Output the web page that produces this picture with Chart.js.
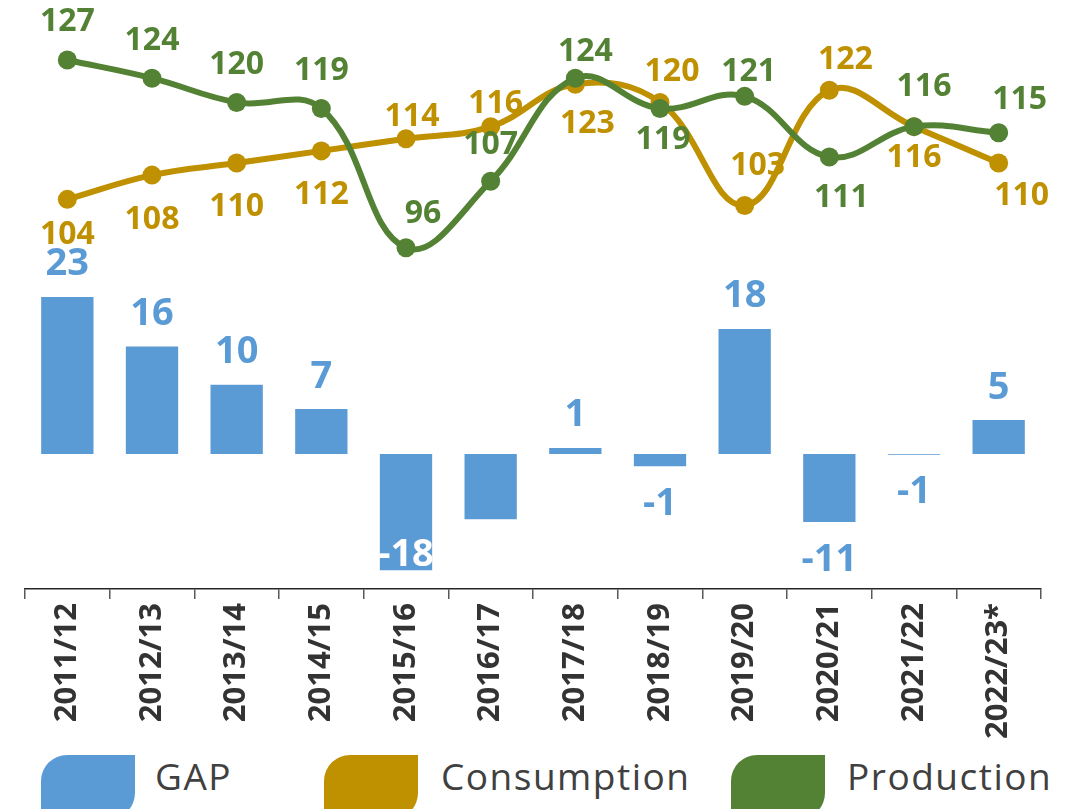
<!DOCTYPE html>
<html>
<head>
<meta charset="utf-8">
<script src="https://cdn.jsdelivr.net/npm/chart.js@4.4.1/dist/chart.umd.min.js"></script>
<style>
  html, body { margin: 0; padding: 0; background: #fff; }
  body { width: 1086px; height: 809px; overflow: hidden; position: relative; font-family: "Open Sans", sans-serif; }
  #wrap { position: absolute; left: 0; top: 0; width: 1086px; height: 745px; }
  .swatch { position: absolute; top: 755px; width: 94px; height: 64px; border-radius: 26px 0 26px 0; }
  .ltxt { position: absolute; top: 757px; font-size: 37px; line-height: 37px; color: #404040; letter-spacing: 1.5px; white-space: nowrap; }
</style>
</head>
<body>
<div id="wrap"><canvas id="gapChart"></canvas></div>

<div class="swatch" style="left:41px; background:#5B9BD5;"></div>
<div class="ltxt" style="left:155px;">GAP</div>
<div class="swatch" style="left:324px; background:#BF9000;"></div>
<div class="ltxt" style="left:441px;">Consumption</div>
<div class="swatch" style="left:731px; background:#548235;"></div>
<div class="ltxt" style="left:847px;">Production</div>

<script>
// --- data ---
const categories = ["2011/12", "2012/13", "2013/14", "2014/15", "2015/16", "2016/17",
  "2017/18", "2018/19", "2019/20", "2020/21", "2021/22", "2022/23*"];
const gapValues = [23.1, 15.8, 10.2, 6.6, -17.1, -9.6, 0.9, -1.8, 18.4, -10.0, -0.1, 5.0];
const gapLabels = ["23", "16", "10", "7", "-18", "", "1", "-1", "18", "-11", "-1", "5"];
const consumption = [104, 108, 110, 112, 114, 116, 123, 120, 103, 122, 116, 110];
const production = [127, 124, 120, 119, 96, 107, 124, 119, 121, 111, 116, 115];

// label offsets (centre of text relative to point)
const prodDy = [-40, -40, -40, -40, -36, -39, -29, 29, -27, 39, -42, -35];
const prodDx = [0, 0, 0, 0, 17, 0, 10, 3, 4, 12, 10, 21];
const consDy = [33, 42, 41, 42, -24, -25, 37, -33, -42, -33, 29, 30];
const consDx = [0, 0, 0, 0, 6, 5, 12, 12, 13, 16, 0, 23];

const BLUE = "#5B9BD5";
const GOLD = "#BF9000";
const GREEN = "#548235";

// plugin buat gambar angka di atas bar & titik
const valueLabels = {
  id: "valueLabels",
  afterDatasetsDraw(chart) {
    const ctx = chart.ctx;
    const area = chart.chartArea;
    ctx.save();
    ctx.textAlign = "center";
    ctx.textBaseline = "alphabetic";

    // bar labels
    ctx.font = 'bold 38px "Open Sans"';
    chart.getDatasetMeta(0).data.forEach((bar, i) => {
      const txt = gapLabels[i];
      if (!txt) return;
      let base;
      ctx.fillStyle = BLUE;
      if (gapValues[i] >= 0) {
        base = bar.y - 35 + 13.5;
      } else {
        base = bar.y + 35 + 13.5;
        if (base > area.bottom) {
          base = bar.y - 4;
          ctx.fillStyle = "#ffffff";
        }
      }
      ctx.fillText(txt, bar.x, base);
    });

    // line labels
    ctx.font = 'bold 32px "Open Sans"';
    const drawLine = (idx, values, dx, dy, color) => {
      ctx.fillStyle = color;
      chart.getDatasetMeta(idx).data.forEach((pt, i) => {
        ctx.fillText(String(values[i]), pt.x + dx[i], pt.y + dy[i] + 11.5);
      });
    };
    drawLine(1, consumption, consDx, consDy, GOLD);
    drawLine(2, production, prodDx, prodDy, GREEN);
    ctx.restore();
  }
};

const ctx = document.getElementById("gapChart").getContext("2d");
new Chart(ctx, {
  data: {
    labels: categories,
    datasets: [
      {
        type: "bar",
        label: "GAP",
        data: gapValues,
        yAxisID: "y",
        backgroundColor: BLUE,
        borderWidth: 0,
        barPercentage: 0.618,
        categoryPercentage: 1,
        order: 2,
      },
      {
        type: "line",
        label: "Consumption",
        data: consumption,
        yAxisID: "y1",
        borderColor: GOLD,
        backgroundColor: GOLD,
        borderWidth: 6,
        pointRadius: 9.5,
        pointBorderWidth: 0,
        pointBackgroundColor: GOLD,
        tension: 0.4,
        order: 1,
      },
      {
        type: "line",
        label: "Production",
        data: production,
        yAxisID: "y1",
        borderColor: GREEN,
        backgroundColor: GREEN,
        borderWidth: 6,
        pointRadius: 9.5,
        pointBorderWidth: 0,
        pointBackgroundColor: GREEN,
        tension: 0.4,
        order: 0,
      },
    ],
  },
  options: {
    responsive: true,
    maintainAspectRatio: false,
    animation: false,
    layout: { autoPadding: false, padding: { left: 25, right: 45, top: 0, bottom: 0 } },
    plugins: { legend: { display: false }, tooltip: { enabled: false } },
    scales: {
      x: {
        offset: true,
        grid: {
          offset: true,
          drawOnChartArea: false,
          drawTicks: true,
          tickLength: 10,
          color: "#595959",
          lineWidth: 1.5,
        },
        border: { display: true, color: "#262626", width: 1.5 },
        ticks: {
          maxRotation: 90,
          minRotation: 90,
          padding: 4,
          color: "#333333",
          font: { family: "Open Sans", weight: "bold", size: 31 },
        },
        afterFit(scale) {
          scale.height = 156;
        },
      },
      y: { display: false, min: -19.85, max: 66.76 },
      y1: { display: false, min: 39.7, max: 136.9 },
    },
  },
  plugins: [valueLabels],
});
</script>
</body>
</html>
